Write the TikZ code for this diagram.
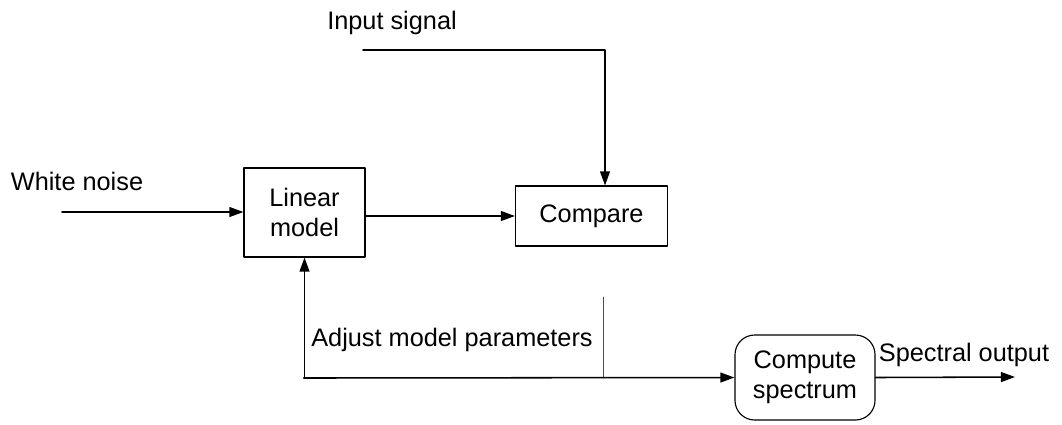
\documentclass[tikz,border=0pt]{standalone}
\usepackage{fontspec}
\setmainfont{Liberation Sans}
\usetikzlibrary{arrows.meta}

\begin{document}
\begin{tikzpicture}[x=0.025cm,y=-0.025cm,>={Triangle[length=10pt,width=7pt]},line cap=round,line join=round,
  blk/.style={draw,line width=0.8pt,inner sep=0pt,align=center,font=\fontsize{18}{21}\selectfont},
  lbl/.style={inner sep=0pt,font=\fontsize{18}{21}\selectfont},
  wire/.style={line width=1.1pt}]
\useasboundingbox (0,0) rectangle (1062,424);
\coordinate (noise) at (62,212);
\coordinate (inA) at (363,50);
\coordinate (inB) at (605,50);
\coordinate (fb) at (304,378);
\coordinate (tap) at (603,297);
\coordinate (tapB) at (603,378);
\coordinate (out) at (1015,377);
\node[blk,minimum width=3.025cm,minimum height=2.225cm] (lin) at (304.5,212.5) {Linear\\model};
\node[blk,minimum width=3.8cm,minimum height=1.5cm] (cmp) at (591.5,216) {Compare};
\node[blk,rounded corners=14pt,minimum width=3.5cm,minimum height=2.125cm] (spec) at (805,377.5) {Compute\\spectrum};
\node[lbl] (noisetxt) at (77,181) {White noise};
\node[lbl] (intxt) at (392,23) {Input signal};
\node[lbl] (adjtxt) at (452,340) {Adjust model parameters};
\node[lbl] (outtxt) at (964,355) {Spectral output};
\draw[->,wire] (noise) -- (noise -| lin.west);
\draw[->,wire] (lin.east |- cmp.west) -- (cmp.west);
\draw[->,wire] (inA) -- (inB) -- (inB |- cmp.north);
\draw[line width=0.6pt,black!70] (tap) -- (tapB);
\draw[->,wire] (fb) -- (fb -| lin.south) -- (lin.south);
\draw[->,wire] (fb) -- (spec.west);
\draw[->,wire] (spec.east) -- (out);
\end{tikzpicture}
\end{document}
